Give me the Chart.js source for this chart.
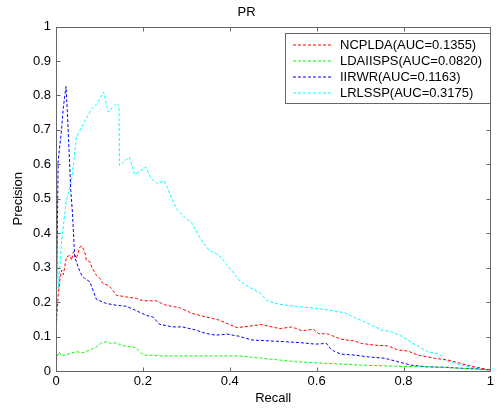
<!DOCTYPE html>
<html>
<head>
<meta charset="utf-8">
<title>PR</title>
<script src="https://cdn.jsdelivr.net/npm/chart.js@4/dist/chart.umd.min.js"></script>
<style>
  body { margin: 0; background: #fff; }
  #wrap { width: 497px; height: 409px; }
</style>
</head>
<body>
<div id="wrap"><canvas id="grafico" width="497" height="409"></canvas></div>
<script>
// dados (recall / precision)
const ncpldaRecall = [0,0.002,0.005,0.009,0.013,0.017,0.024,0.032,0.036,0.04,0.047,0.055,0.059,0.066,0.07,0.078,0.082,0.093,0.101,0.108,0.12,0.127,0.139,0.162,0.185,0.2,0.23,0.253,0.284,0.314,0.345,0.375,0.398,0.417,0.444,0.474,0.497,0.516,0.543,0.566,0.593,0.604,0.627,0.657,0.688,0.703,0.734,0.764,0.787,0.81,0.833,0.871,0.902,0.932,0.963,1.0];
const ncpldaPrecision = [0.1,0.16,0.22,0.264,0.293,0.28,0.331,0.336,0.322,0.346,0.327,0.36,0.363,0.346,0.322,0.317,0.302,0.278,0.269,0.254,0.249,0.24,0.22,0.215,0.211,0.204,0.204,0.191,0.184,0.167,0.157,0.148,0.136,0.126,0.13,0.135,0.128,0.123,0.128,0.117,0.121,0.109,0.107,0.092,0.087,0.08,0.075,0.073,0.061,0.058,0.046,0.037,0.032,0.022,0.012,0.003];

const ldaRecall = [0,0.002,0.007,0.012,0.021,0.032,0.047,0.062,0.078,0.093,0.105,0.116,0.127,0.139,0.15,0.166,0.173,0.185,0.196,0.207,0.238,0.284,0.33,0.421,0.474,0.551,0.627,0.703,0.78,0.856,0.932,1.0];
const ldaPrecision = [0,0.04,0.056,0.045,0.046,0.051,0.056,0.053,0.061,0.07,0.082,0.085,0.08,0.082,0.075,0.07,0.072,0.066,0.051,0.046,0.044,0.044,0.044,0.044,0.037,0.027,0.022,0.017,0.014,0.012,0.008,0.003];

const iirwrRecall = [0,0.002,0.005,0.013,0.017,0.023,0.026,0.03,0.034,0.038,0.043,0.051,0.059,0.066,0.078,0.085,0.093,0.116,0.139,0.162,0.185,0.207,0.223,0.238,0.268,0.291,0.322,0.345,0.368,0.394,0.421,0.451,0.482,0.528,0.566,0.597,0.623,0.631,0.642,0.657,0.688,0.719,0.757,0.787,0.818,0.856,0.894,0.932,0.97,1.0];
const iirwrPrecision = [0.08,0.3,0.61,0.703,0.766,0.826,0.757,0.64,0.525,0.457,0.331,0.302,0.278,0.269,0.259,0.235,0.208,0.196,0.191,0.188,0.175,0.162,0.157,0.136,0.128,0.128,0.119,0.109,0.104,0.107,0.101,0.09,0.088,0.085,0.082,0.078,0.08,0.066,0.056,0.049,0.046,0.041,0.037,0.027,0.017,0.012,0.011,0.008,0.006,0.003];

const lrlsspRecall = [0,0.002,0.004,0.006,0.013,0.024,0.036,0.047,0.059,0.082,0.097,0.11,0.12,0.14,0.145,0.146,0.169,0.181,0.207,0.219,0.234,0.249,0.257,0.268,0.28,0.299,0.314,0.33,0.352,0.375,0.398,0.421,0.444,0.471,0.486,0.513,0.551,0.597,0.627,0.665,0.684,0.719,0.749,0.772,0.799,0.822,0.856,0.883,0.894,0.932,0.97,1.0];
const lrlsspPrecision = [0.45,0.6,0.3,0.24,0.38,0.496,0.554,0.679,0.708,0.761,0.78,0.81,0.752,0.778,0.77,0.597,0.621,0.571,0.592,0.558,0.544,0.552,0.53,0.496,0.467,0.443,0.428,0.389,0.351,0.336,0.302,0.264,0.244,0.225,0.204,0.194,0.188,0.182,0.177,0.169,0.157,0.138,0.119,0.114,0.099,0.08,0.056,0.049,0.032,0.017,0.008,0.003];

const nomes = ['NCPLDA(AUC=0.1355)', 'LDAIISPS(AUC=0.0820)', 'IIRWR(AUC=0.1163)', 'LRLSSP(AUC=0.3175)'];
const cores = ['#ff0000', '#00ff00', '#0000ff', '#00ffff'];
const xTicks = [0, 0.2, 0.4, 0.6, 0.8, 1];
const yTicks = [0, 0.1, 0.2, 0.3, 0.4, 0.5, 0.6, 0.7, 0.8, 0.9, 1];

const fonte = "'Liberation Sans', Arial, sans-serif";
Chart.defaults.font.family = fonte;

function pontos(xs, ys) {
    return xs.map((x, i) => ({ x: x, y: ys[i] }));
}

const series = [
    pontos(ncpldaRecall, ncpldaPrecision),
    pontos(ldaRecall, ldaPrecision),
    pontos(iirwrRecall, iirwrPrecision),
    pontos(lrlsspRecall, lrlsspPrecision)
];

// caixa dos eixos com ticks para dentro (estilo matlab)
const caixaEixos = {
    id: 'caixaEixos',
    afterDatasetsDraw(chart) {
        const { ctx, chartArea: a, scales } = chart;
        const L = Math.round(a.left) + 0.5, R = Math.round(a.right) + 0.5;
        const T = Math.round(a.top) + 0.5, B = Math.round(a.bottom) + 0.5;
        ctx.save();
        ctx.strokeStyle = '#666';
        ctx.lineWidth = 1;
        ctx.strokeRect(L, T, R - L, B - T);
        ctx.beginPath();
        xTicks.forEach(v => {
            const px = Math.round(scales.x.getPixelForValue(v)) + 0.5;
            ctx.moveTo(px, B); ctx.lineTo(px, B - 4);
            ctx.moveTo(px, T); ctx.lineTo(px, T + 4);
        });
        yTicks.forEach(v => {
            const py = Math.round(scales.y.getPixelForValue(v)) + 0.5;
            ctx.moveTo(L, py); ctx.lineTo(L + 4, py);
            ctx.moveTo(R, py); ctx.lineTo(R - 4, py);
        });
        ctx.stroke();
        ctx.restore();
    },
    afterDraw(chart) {
        // legenda dentro do gráfico
        const ctx = chart.ctx;
        const x0 = 285.5, y0 = 33.5, w = 205, h = 70;
        ctx.save();
        ctx.setLineDash([]);
        ctx.fillStyle = '#fff';
        ctx.fillRect(x0, y0, w, h);
        ctx.strokeStyle = '#666';
        ctx.lineWidth = 1;
        ctx.strokeRect(x0, y0, w, h);
        ctx.font = '13px ' + fonte;
        ctx.textBaseline = 'middle';
        nomes.forEach((nome, i) => {
            const yy = Math.round(y0 + 11 + i * 16.3);
            ctx.fillStyle = cores[i];
            for (let xx = 293; xx < 333; xx += 5) {
                ctx.fillRect(xx, yy - 0.5, 3, 1);
            }
            ctx.fillStyle = '#000';
            ctx.fillText(nome, 340, yy);
        });
        ctx.restore();
    }
};

new Chart(document.getElementById('grafico'), {
    type: 'scatter',
    data: {
        datasets: series.map((dados, i) => ({
            label: nomes[i],
            data: dados,
            showLine: true,
            borderColor: cores[i],
            backgroundColor: cores[i],
            borderWidth: 1,
            borderDash: [3, 2],
            pointRadius: 0,
            tension: 0
        }))
    },
    options: {
        responsive: false,
        animation: false,
        layout: { padding: { top: 0, right: 4, left: 0, bottom: 0 } },
        plugins: {
            legend: { display: false },
            tooltip: { enabled: false },
            title: {
                display: true,
                text: 'PR',
                color: '#000',
                font: { size: 13, weight: 'normal' },
                padding: { top: 5, bottom: 6 }
            }
        },
        scales: {
            x: {
                type: 'linear',
                min: 0, max: 1,
                afterFit: s => { s.height = 38; },
                afterBuildTicks: s => { s.ticks = xTicks.map(v => ({ value: v })); },
                ticks: {
                    color: '#000', font: { size: 13 }, padding: 3,
                    maxRotation: 0,
                    callback: v => String(Math.round(v * 10) / 10)
                },
                grid: { drawOnChartArea: false, drawTicks: false },
                border: { display: false },
                title: { display: true, text: 'Recall', color: '#000', font: { size: 13 }, padding: { top: 0, bottom: 3 } }
            },
            y: {
                type: 'linear',
                min: 0, max: 1,
                afterFit: s => { s.width = 56; },
                afterBuildTicks: s => { s.ticks = yTicks.map(v => ({ value: v })); },
                ticks: {
                    color: '#000', font: { size: 13 }, padding: 5,
                    callback: v => String(Math.round(v * 10) / 10)
                },
                grid: { drawOnChartArea: false, drawTicks: false },
                border: { display: false },
                title: { display: true, text: 'Precision', color: '#000', font: { size: 13 }, padding: { top: 11, bottom: 0 } }
            }
        }
    },
    plugins: [caixaEixos]
});
</script>
</body>
</html>
